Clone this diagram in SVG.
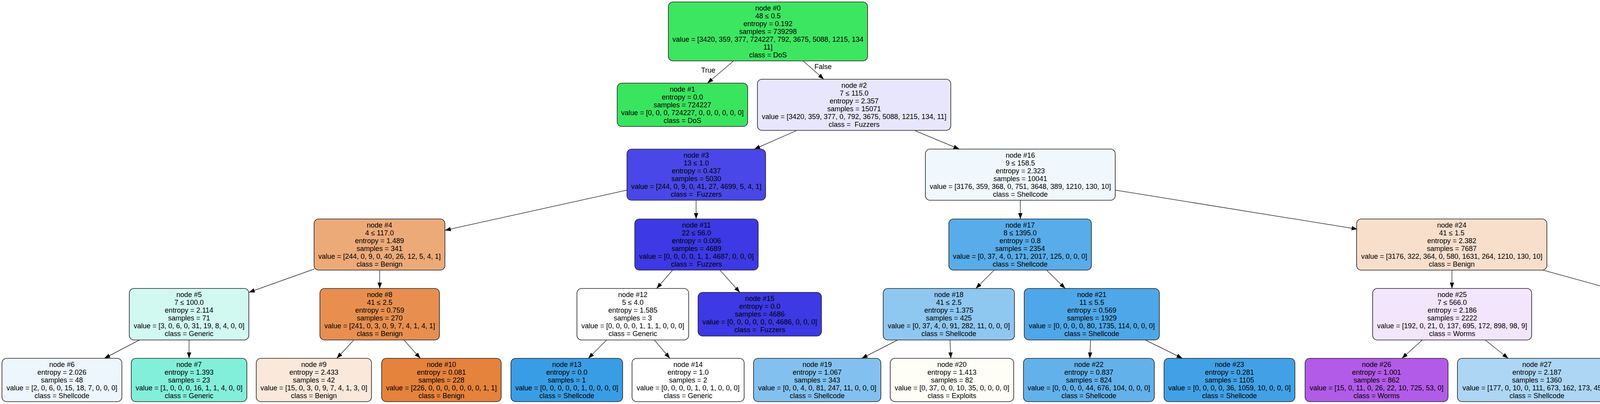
<svg xmlns="http://www.w3.org/2000/svg" width="4975" height="1035" viewBox="0 0 4975 1035">
<style>
.box{stroke:#222;stroke-width:1.6}
.t{font-family:"Liberation Sans",Arial,Helvetica,sans-serif;font-size:18px;text-anchor:middle;fill:#000;white-space:pre}
.e{stroke:#333;stroke-width:1.5;fill:none;marker-end:url(#ah)}
</style>
<defs>
<marker id="ah" viewBox="0 0 15 11" refX="15" refY="5.5" markerWidth="15" markerHeight="11" markerUnits="userSpaceOnUse" orient="auto"><path d="M0,0 L15,5.5 L0,11 z" fill="#000"/></marker>
</defs>
<rect x="0" y="0" width="4975" height="1035" fill="#fff"/>
<g id="edges">
<line class="e" x1="1878" y1="156" x2="1811" y2="213"/>
<line class="e" x1="2056" y1="156" x2="2109" y2="203"/>
<line class="e" x1="2038" y1="335" x2="1931" y2="382"/>
<line class="e" x1="2343" y1="335" x2="2456" y2="382"/>
<line class="e" x1="1605" y1="487" x2="1139" y2="590"/>
<line class="e" x1="1782" y1="513" x2="1782" y2="561"/>
<line class="e" x1="2612" y1="513" x2="2612" y2="561"/>
<line class="e" x1="2855" y1="487" x2="3475" y2="587"/>
<line class="e" x1="805" y1="689" x2="637" y2="749"/>
<line class="e" x1="972" y1="692" x2="972" y2="739"/>
<line class="e" x1="1722" y1="692" x2="1681" y2="739"/>
<line class="e" x1="1843" y1="692" x2="1894" y2="749"/>
<line class="e" x1="2545" y1="692" x2="2498" y2="739"/>
<line class="e" x1="2679" y1="692" x2="2727" y2="739"/>
<line class="e" x1="3717" y1="692" x2="3717" y2="739"/>
<line class="e" x1="3950" y1="692" x2="4138" y2="744"/>
<line class="e" x1="357" y1="871" x2="267" y2="918"/>
<line class="e" x1="484" y1="871" x2="484" y2="918"/>
<line class="e" x1="906" y1="871" x2="862" y2="918"/>
<line class="e" x1="1034" y1="871" x2="1076" y2="918"/>
<line class="e" x1="1553" y1="871" x2="1506" y2="918"/>
<line class="e" x1="1675" y1="871" x2="1715" y2="918"/>
<line class="e" x1="2298" y1="871" x2="2206" y2="918"/>
<line class="e" x1="2432" y1="871" x2="2434" y2="918"/>
<line class="e" x1="2792" y1="871" x2="2790" y2="918"/>
<line class="e" x1="2932" y1="871" x2="3027" y2="918"/>
<line class="e" x1="3641" y1="871" x2="3589" y2="918"/>
<line class="e" x1="3802" y1="871" x2="3861" y2="918"/>
<line class="e" x1="4356" y1="871" x2="4356" y2="918"/>
<line class="e" x1="4517" y1="871" x2="4633" y2="918"/>
<text class="t" x="1813" y="186">True</text>
<text class="t" x="2107" y="177">False</text>
</g>
<g id="node0"><rect class="box" x="1711" y="5" width="510" height="151" rx="12" fill="#3de661"/>
<text class="t" x="1966" y="26.5"><tspan x="1966">node #0</tspan><tspan x="1966" dy="20">48 ≤ 0.5</tspan><tspan x="1966" dy="20">entropy = 0.192</tspan><tspan x="1966" dy="20">samples = 739298</tspan><tspan x="1966" dy="20">value = [3420, 359, 377, 724227, 792, 3675, 5088, 1215, 134</tspan><tspan x="1966" dy="20">11]</tspan><tspan x="1966" dy="20">class = DoS</tspan></text></g>
<g id="node1"><rect class="box" x="1580" y="213" width="334" height="111" rx="12" fill="#39e55e"/>
<text class="t" x="1747" y="234.5"><tspan x="1747">node #1</tspan><tspan x="1747" dy="20">entropy = 0.0</tspan><tspan x="1747" dy="20">samples = 724227</tspan><tspan x="1747" dy="20">value = [0, 0, 0, 724227, 0, 0, 0, 0, 0, 0]</tspan><tspan x="1747" dy="20">class = DoS</tspan></text></g>
<g id="node2"><rect class="box" x="1939" y="203" width="495" height="131" rx="12" fill="#e7e6fc"/>
<text class="t" x="2186.5" y="224.5"><tspan x="2186.5">node #2</tspan><tspan x="2186.5" dy="20">7 ≤ 115.0</tspan><tspan x="2186.5" dy="20">entropy = 2.357</tspan><tspan x="2186.5" dy="20">samples = 15071</tspan><tspan x="2186.5" dy="20">value = [3420, 359, 377, 0, 792, 3675, 5088, 1215, 134, 11]</tspan><tspan x="2186.5" dy="20">class =  Fuzzers</tspan></text></g>
<g id="node3"><rect class="box" x="1605" y="382" width="355" height="131" rx="12" fill="#4947e7"/>
<text class="t" x="1782.5" y="403.5"><tspan x="1782.5">node #3</tspan><tspan x="1782.5" dy="20">13 ≤ 1.0</tspan><tspan x="1782.5" dy="20">entropy = 0.437</tspan><tspan x="1782.5" dy="20">samples = 5030</tspan><tspan x="1782.5" dy="20">value = [244, 0, 9, 0, 41, 27, 4699, 5, 4, 1]</tspan><tspan x="1782.5" dy="20">class =  Fuzzers</tspan></text></g>
<g id="node16"><rect class="box" x="2369" y="382" width="486" height="131" rx="12" fill="#f1f8fd"/>
<text class="t" x="2612" y="403.5"><tspan x="2612">node #16</tspan><tspan x="2612" dy="20">9 ≤ 158.5</tspan><tspan x="2612" dy="20">entropy = 2.323</tspan><tspan x="2612" dy="20">samples = 10041</tspan><tspan x="2612" dy="20">value = [3176, 359, 368, 0, 751, 3648, 389, 1210, 130, 10]</tspan><tspan x="2612" dy="20">class = Shellcode</tspan></text></g>
<g id="node4"><rect class="box" x="804" y="561" width="335" height="131" rx="12" fill="#edaa79"/>
<text class="t" x="971.5" y="582.5"><tspan x="971.5">node #4</tspan><tspan x="971.5" dy="20">4 ≤ 117.0</tspan><tspan x="971.5" dy="20">entropy = 1.489</tspan><tspan x="971.5" dy="20">samples = 341</tspan><tspan x="971.5" dy="20">value = [244, 0, 9, 0, 40, 26, 12, 5, 4, 1]</tspan><tspan x="971.5" dy="20">class = Benign</tspan></text></g>
<g id="node11"><rect class="box" x="1625" y="561" width="316" height="131" rx="12" fill="#3c39e5"/>
<text class="t" x="1783" y="582.5"><tspan x="1783">node #11</tspan><tspan x="1783" dy="20">22 ≤ 56.0</tspan><tspan x="1783" dy="20">entropy = 0.006</tspan><tspan x="1783" dy="20">samples = 4689</tspan><tspan x="1783" dy="20">value = [0, 0, 0, 0, 1, 1, 4687, 0, 0, 0]</tspan><tspan x="1783" dy="20">class =  Fuzzers</tspan></text></g>
<g id="node17"><rect class="box" x="2429" y="561" width="365" height="131" rx="12" fill="#58ace9"/>
<text class="t" x="2611.5" y="582.5"><tspan x="2611.5">node #17</tspan><tspan x="2611.5" dy="20">8 ≤ 1395.0</tspan><tspan x="2611.5" dy="20">entropy = 0.8</tspan><tspan x="2611.5" dy="20">samples = 2354</tspan><tspan x="2611.5" dy="20">value = [0, 37, 4, 0, 171, 2017, 125, 0, 0, 0]</tspan><tspan x="2611.5" dy="20">class = Shellcode</tspan></text></g>
<g id="node24"><rect class="box" x="3473" y="561" width="487" height="131" rx="12" fill="#f8dfcc"/>
<text class="t" x="3716.5" y="582.5"><tspan x="3716.5">node #24</tspan><tspan x="3716.5" dy="20">41 ≤ 1.5</tspan><tspan x="3716.5" dy="20">entropy = 2.382</tspan><tspan x="3716.5" dy="20">samples = 7687</tspan><tspan x="3716.5" dy="20">value = [3176, 322, 364, 0, 580, 1631, 264, 1210, 130, 10]</tspan><tspan x="3716.5" dy="20">class = Benign</tspan></text></g>
<g id="node5"><rect class="box" x="331" y="739" width="306" height="132" rx="12" fill="#d1f9f2"/>
<text class="t" x="484" y="760.5"><tspan x="484">node #5</tspan><tspan x="484" dy="20">7 ≤ 100.0</tspan><tspan x="484" dy="20">entropy = 2.114</tspan><tspan x="484" dy="20">samples = 71</tspan><tspan x="484" dy="20">value = [3, 0, 6, 0, 31, 19, 8, 4, 0, 0]</tspan><tspan x="484" dy="20">class = Generic</tspan></text></g>
<g id="node8"><rect class="box" x="819" y="739" width="306" height="132" rx="12" fill="#e88f4f"/>
<text class="t" x="972" y="760.5"><tspan x="972">node #8</tspan><tspan x="972" dy="20">41 ≤ 2.5</tspan><tspan x="972" dy="20">entropy = 0.759</tspan><tspan x="972" dy="20">samples = 270</tspan><tspan x="972" dy="20">value = [241, 0, 3, 0, 9, 7, 4, 1, 4, 1]</tspan><tspan x="972" dy="20">class = Benign</tspan></text></g>
<g id="node12"><rect class="box" x="1477" y="739" width="286" height="132" rx="12" fill="#ffffff"/>
<text class="t" x="1620" y="760.5"><tspan x="1620">node #12</tspan><tspan x="1620" dy="20">5 ≤ 4.0</tspan><tspan x="1620" dy="20">entropy = 1.585</tspan><tspan x="1620" dy="20">samples = 3</tspan><tspan x="1620" dy="20">value = [0, 0, 0, 0, 1, 1, 1, 0, 0, 0]</tspan><tspan x="1620" dy="20">class = Generic</tspan></text></g>
<g id="node15"><rect class="box" x="1787" y="749" width="316" height="112" rx="12" fill="#3c39e5"/>
<text class="t" x="1945" y="770.5"><tspan x="1945">node #15</tspan><tspan x="1945" dy="20">entropy = 0.0</tspan><tspan x="1945" dy="20">samples = 4686</tspan><tspan x="1945" dy="20">value = [0, 0, 0, 0, 0, 0, 4686, 0, 0, 0]</tspan><tspan x="1945" dy="20">class =  Fuzzers</tspan></text></g>
<g id="node18"><rect class="box" x="2261" y="739" width="336" height="132" rx="12" fill="#8ec7f0"/>
<text class="t" x="2429" y="760.5"><tspan x="2429">node #18</tspan><tspan x="2429" dy="20">41 ≤ 2.5</tspan><tspan x="2429" dy="20">entropy = 1.375</tspan><tspan x="2429" dy="20">samples = 425</tspan><tspan x="2429" dy="20">value = [0, 37, 4, 0, 91, 282, 11, 0, 0, 0]</tspan><tspan x="2429" dy="20">class = Shellcode</tspan></text></g>
<g id="node21"><rect class="box" x="2622" y="739" width="346" height="132" rx="12" fill="#4ea7e8"/>
<text class="t" x="2795" y="760.5"><tspan x="2795">node #21</tspan><tspan x="2795" dy="20">11 ≤ 5.5</tspan><tspan x="2795" dy="20">entropy = 0.569</tspan><tspan x="2795" dy="20">samples = 1929</tspan><tspan x="2795" dy="20">value = [0, 0, 0, 0, 80, 1735, 114, 0, 0, 0]</tspan><tspan x="2795" dy="20">class = Shellcode</tspan></text></g>
<g id="node25"><rect class="box" x="3514" y="739" width="407" height="132" rx="12" fill="#f3e5fc"/>
<text class="t" x="3717.5" y="760.5"><tspan x="3717.5">node #25</tspan><tspan x="3717.5" dy="20">7 ≤ 566.0</tspan><tspan x="3717.5" dy="20">entropy = 2.186</tspan><tspan x="3717.5" dy="20">samples = 2222</tspan><tspan x="3717.5" dy="20">value = [192, 0, 21, 0, 137, 695, 172, 898, 98, 9]</tspan><tspan x="3717.5" dy="20">class = Worms</tspan></text></g>
<g id="node28"><rect class="box" x="4137" y="739" width="437" height="132" rx="12" fill="#f3c6a5"/>
<text class="t" x="4355.5" y="760.5"><tspan x="4355.5">node #28</tspan><tspan x="4355.5" dy="20">45 ≤ 1.5</tspan><tspan x="4355.5" dy="20">entropy = 2.079</tspan><tspan x="4355.5" dy="20">samples = 5465</tspan><tspan x="4355.5" dy="20">value = [2984, 322, 343, 0, 443, 936, 92, 312, 32, 1]</tspan><tspan x="4355.5" dy="20">class = Benign</tspan></text></g>
<g id="node6"><rect class="box" x="5" y="918" width="307" height="111" rx="12" fill="#edf6fd"/>
<text class="t" x="158.5" y="939.5"><tspan x="158.5">node #6</tspan><tspan x="158.5" dy="20">entropy = 2.026</tspan><tspan x="158.5" dy="20">samples = 48</tspan><tspan x="158.5" dy="20">value = [2, 0, 6, 0, 15, 18, 7, 0, 0, 0]</tspan><tspan x="158.5" dy="20">class = Shellcode</tspan></text></g>
<g id="node7"><rect class="box" x="336" y="918" width="296" height="111" rx="12" fill="#82efda"/>
<text class="t" x="484" y="939.5"><tspan x="484">node #7</tspan><tspan x="484" dy="20">entropy = 1.393</tspan><tspan x="484" dy="20">samples = 23</tspan><tspan x="484" dy="20">value = [1, 0, 0, 0, 16, 1, 1, 4, 0, 0]</tspan><tspan x="484" dy="20">class = Generic</tspan></text></g>
<g id="node9"><rect class="box" x="656" y="918" width="295" height="111" rx="12" fill="#fae8db"/>
<text class="t" x="803.5" y="939.5"><tspan x="803.5">node #9</tspan><tspan x="803.5" dy="20">entropy = 2.433</tspan><tspan x="803.5" dy="20">samples = 42</tspan><tspan x="803.5" dy="20">value = [15, 0, 3, 0, 9, 7, 4, 1, 3, 0]</tspan><tspan x="803.5" dy="20">class = Benign</tspan></text></g>
<g id="node10"><rect class="box" x="977" y="918" width="306" height="111" rx="12" fill="#e5823b"/>
<text class="t" x="1130" y="939.5"><tspan x="1130">node #10</tspan><tspan x="1130" dy="20">entropy = 0.081</tspan><tspan x="1130" dy="20">samples = 228</tspan><tspan x="1130" dy="20">value = [226, 0, 0, 0, 0, 0, 0, 0, 1, 1]</tspan><tspan x="1130" dy="20">class = Benign</tspan></text></g>
<g id="node13"><rect class="box" x="1308" y="918" width="286" height="111" rx="12" fill="#399de5"/>
<text class="t" x="1451" y="939.5"><tspan x="1451">node #13</tspan><tspan x="1451" dy="20">entropy = 0.0</tspan><tspan x="1451" dy="20">samples = 1</tspan><tspan x="1451" dy="20">value = [0, 0, 0, 0, 0, 1, 0, 0, 0, 0]</tspan><tspan x="1451" dy="20">class = Shellcode</tspan></text></g>
<g id="node14"><rect class="box" x="1618" y="918" width="287" height="111" rx="12" fill="#ffffff"/>
<text class="t" x="1761.5" y="939.5"><tspan x="1761.5">node #14</tspan><tspan x="1761.5" dy="20">entropy = 1.0</tspan><tspan x="1761.5" dy="20">samples = 2</tspan><tspan x="1761.5" dy="20">value = [0, 0, 0, 0, 1, 0, 1, 0, 0, 0]</tspan><tspan x="1761.5" dy="20">class = Generic</tspan></text></g>
<g id="node19"><rect class="box" x="1929" y="918" width="326" height="111" rx="12" fill="#82c1ef"/>
<text class="t" x="2092" y="939.5"><tspan x="2092">node #19</tspan><tspan x="2092" dy="20">entropy = 1.067</tspan><tspan x="2092" dy="20">samples = 343</tspan><tspan x="2092" dy="20">value = [0, 0, 4, 0, 81, 247, 11, 0, 0, 0]</tspan><tspan x="2092" dy="20">class = Shellcode</tspan></text></g>
<g id="node20"><rect class="box" x="2279" y="918" width="316" height="111" rx="12" fill="#fefef7"/>
<text class="t" x="2437" y="939.5"><tspan x="2437">node #20</tspan><tspan x="2437" dy="20">entropy = 1.413</tspan><tspan x="2437" dy="20">samples = 82</tspan><tspan x="2437" dy="20">value = [0, 37, 0, 0, 10, 35, 0, 0, 0, 0]</tspan><tspan x="2437" dy="20">class = Exploits</tspan></text></g>
<g id="node22"><rect class="box" x="2620" y="918" width="335" height="111" rx="12" fill="#62b1ea"/>
<text class="t" x="2787.5" y="939.5"><tspan x="2787.5">node #22</tspan><tspan x="2787.5" dy="20">entropy = 0.837</tspan><tspan x="2787.5" dy="20">samples = 824</tspan><tspan x="2787.5" dy="20">value = [0, 0, 0, 0, 44, 676, 104, 0, 0, 0]</tspan><tspan x="2787.5" dy="20">class = Shellcode</tspan></text></g>
<g id="node23"><rect class="box" x="2980" y="918" width="335" height="111" rx="12" fill="#42a1e6"/>
<text class="t" x="3147.5" y="939.5"><tspan x="3147.5">node #23</tspan><tspan x="3147.5" dy="20">entropy = 0.281</tspan><tspan x="3147.5" dy="20">samples = 1105</tspan><tspan x="3147.5" dy="20">value = [0, 0, 0, 0, 36, 1059, 10, 0, 0, 0]</tspan><tspan x="3147.5" dy="20">class = Shellcode</tspan></text></g>
<g id="node26"><rect class="box" x="3341" y="918" width="366" height="111" rx="12" fill="#b35be9"/>
<text class="t" x="3524" y="939.5"><tspan x="3524">node #26</tspan><tspan x="3524" dy="20">entropy = 1.001</tspan><tspan x="3524" dy="20">samples = 862</tspan><tspan x="3524" dy="20">value = [15, 0, 11, 0, 26, 22, 10, 725, 53, 0]</tspan><tspan x="3524" dy="20">class = Worms</tspan></text></g>
<g id="node27"><rect class="box" x="3731" y="918" width="407" height="111" rx="12" fill="#acd6f4"/>
<text class="t" x="3934.5" y="939.5"><tspan x="3934.5">node #27</tspan><tspan x="3934.5" dy="20">entropy = 2.187</tspan><tspan x="3934.5" dy="20">samples = 1360</tspan><tspan x="3934.5" dy="20">value = [177, 0, 10, 0, 111, 673, 162, 173, 45, 9]</tspan><tspan x="3934.5" dy="20">class = Shellcode</tspan></text></g>
<g id="node29"><rect class="box" x="4162" y="918" width="387" height="111" rx="12" fill="#eca571"/>
<text class="t" x="4355.5" y="939.5"><tspan x="4355.5">node #29</tspan><tspan x="4355.5" dy="20">entropy = 1.337</tspan><tspan x="4355.5" dy="20">samples = 2775</tspan><tspan x="4355.5" dy="20">value = [2069, 2, 8, 0, 63, 221, 83, 296, 32, 1]</tspan><tspan x="4355.5" dy="20">class = Benign</tspan></text></g>
<g id="node30"><rect class="box" x="4574" y="918" width="395" height="111" rx="12" fill="#fcf2eb"/>
<text class="t" x="4771.5" y="939.5"><tspan x="4771.5">node #30</tspan><tspan x="4771.5" dy="20">entropy = 2.247</tspan><tspan x="4771.5" dy="20">samples = 2690</tspan><tspan x="4771.5" dy="20">value = [915, 320, 335, 0, 380, 715, 9, 16, 0, 0]</tspan><tspan x="4771.5" dy="20">class = Benign</tspan></text></g>
</svg>
